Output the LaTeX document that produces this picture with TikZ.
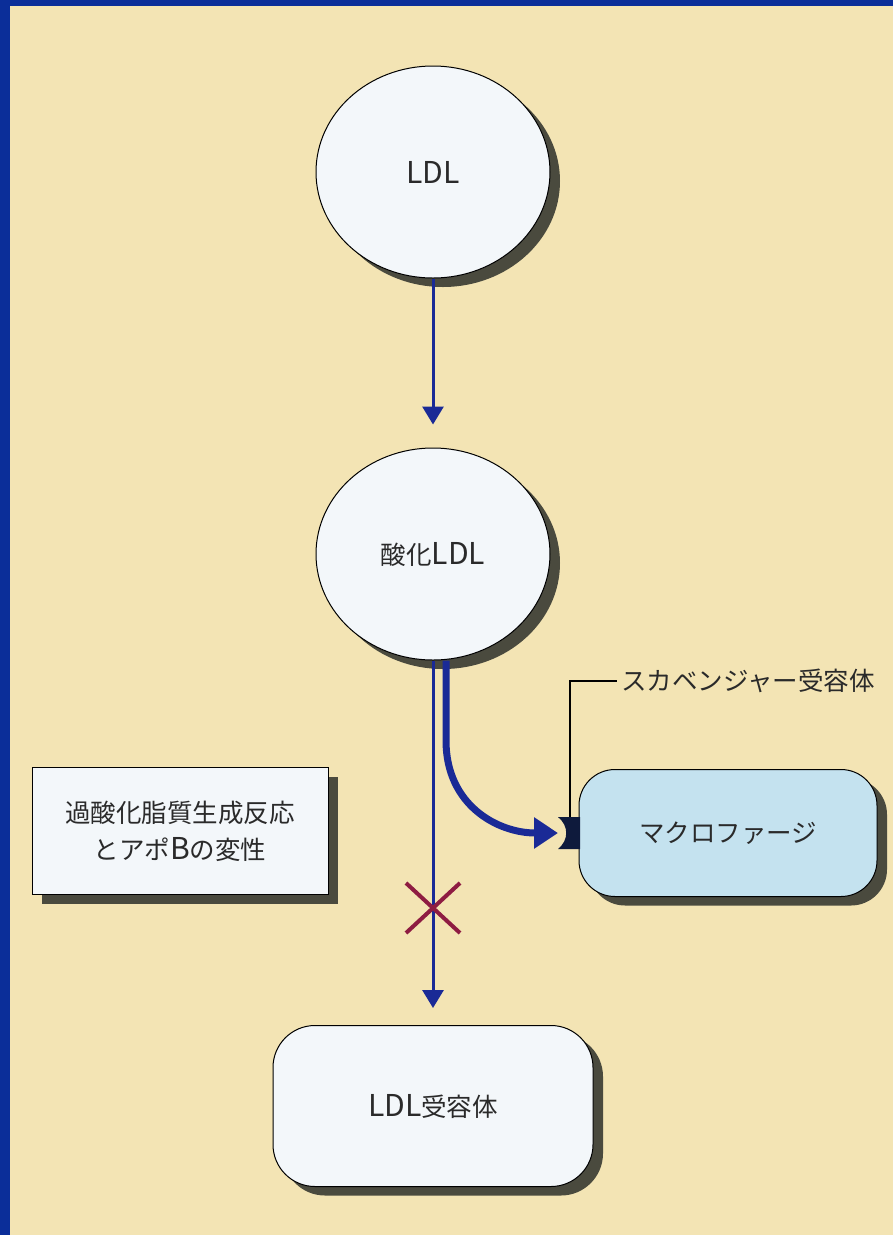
\documentclass[tikz,border=0pt]{standalone}
\usepackage{fontspec}
\setmainfont{Noto Sans CJK JP}
\newfontfamily\latf[Scale=1.18]{Noto Sans CJK JP}
\usetikzlibrary{shapes.geometric,arrows.meta,shadows}
\definecolor{bg}{HTML}{F3E4B4}
\definecolor{frame}{HTML}{0B2E99}
\definecolor{navy}{HTML}{1A2A96}
\definecolor{shade}{HTML}{4A4A3E}
\definecolor{cellw}{HTML}{F3F7FA}
\definecolor{macro}{HTML}{C4E2EF}
\definecolor{crossc}{HTML}{8E1C42}
\definecolor{recep}{HTML}{0E1A3C}
\definecolor{ink}{HTML}{2A2A2A}
\begin{document}
\begin{tikzpicture}[x=1pt,y=-1pt,
  sh/.style={drop shadow={shadow xshift=10pt,shadow yshift=-9pt,fill=shade,opacity=1}},
  txt/.style={font=\fontsize{25.5}{37}\selectfont,text=ink},
  blob/.style={ellipse,draw=black,line width=1pt,fill=cellw,minimum width=234pt,minimum height=212pt,sh,txt},
  rbox/.style={rectangle,rounded corners=42pt,draw=black,line width=1pt,fill=cellw,sh,txt},
  sqbox/.style={rectangle,draw=black,line width=1pt,fill=cellw,sh,txt,align=center},
  flow/.style={draw=navy,line width=3pt,-{Triangle[length=18pt,width=21pt]}},
  bigflow/.style={draw=navy,line width=7pt,-{Triangle[length=24pt,width=30pt]}},
  crossline/.style={draw=crossc,line width=4pt},
  leader/.style={draw=black,line width=1.2pt}
]
\useasboundingbox (0,0) rectangle (893,1235);
\fill[frame] (0,0) rectangle (893,1235);
\fill[bg] (10,6) rectangle (893,1235);

\node[blob] (ldl) at (433,172) {{\latf LDL}};
\node[blob] (oxldl) at (433,554) {酸化{\latf LDL}};
\node[rbox,minimum width=320pt,minimum height=161pt] (ldlr) at (433,1106) {{\latf LDL}受容体};
\node[rbox,fill=macro,rounded corners=36pt,minimum width=298pt,minimum height=127pt] (mac) at (728,833) {マクロファージ};
\node[sqbox,minimum width=296pt,minimum height=127pt] (perox) at (180,831) {過酸化脂質生成反応\\とアポ{\latf B}の変性};

% scavenger receptor (cup on the macrophage)
\fill[recep] (580,817) -- (558,817) .. controls (569,826) and (569,840) .. (558,849) -- (580,849) -- cycle;
\coordinate (cup) at (558,833);
\coordinate (recTop) at (570,817);
\node[txt,anchor=west,inner sep=0pt] (sclabel) at (621,681) {スカベンジャー受容体};
\draw[leader] (recTop) |- ([xshift=-4pt]sclabel.west);

% arrows
\draw[flow,shorten >=23pt] (ldl.south) -- (oxldl.north);
\draw[flow,shorten >=17pt] (oxldl.south) -- (ldlr.north);
\draw[bigflow] ([xshift=13pt]oxldl.south) -- ++(0,80) .. controls +(0,65) and +(-60,0) .. (cup);

% blocked pathway
\coordinate (xc) at (433,908);
\draw[crossline] ([shift={(-27,-25)}]xc) -- ([shift={(27,25)}]xc)
                 ([shift={(27,-25)}]xc) -- ([shift={(-27,25)}]xc);
\end{tikzpicture}
\end{document}
